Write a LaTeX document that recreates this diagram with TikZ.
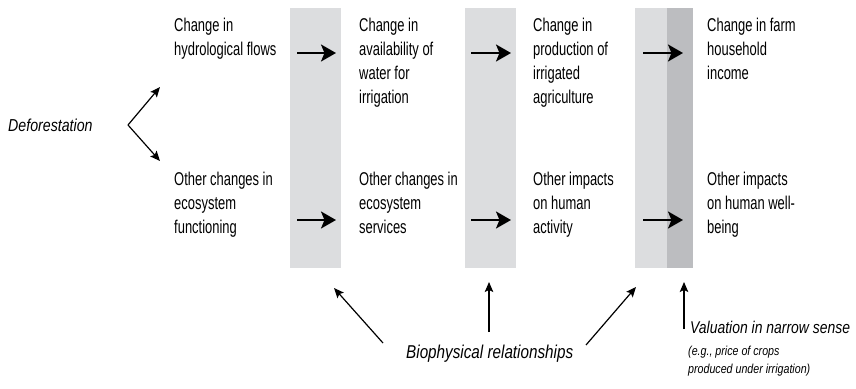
\documentclass[tikz,border=0pt]{standalone}
\usepackage{fontspec}
\setmainfont[FakeStretch=0.7]{Liberation Sans}
\newfontfamily\itlabel[FakeStretch=0.82]{Liberation Sans}
\usetikzlibrary{arrows.meta}
\definecolor{bandlight}{HTML}{DCDDDF}
\definecolor{banddark}{HTML}{BCBDC0}
\begin{document}
\begin{tikzpicture}[x=1pt,y=-1pt,
  box/.style={anchor=north west,inner sep=0pt,align=left,font=\fontsize{18.5}{24}\selectfont},
  thick arrow/.style={line width=2.2pt,-{Stealth[length=15pt,width=17pt,inset=3.5pt]}},
  thin arrow/.style={line width=1.2pt,-{Stealth[length=10pt,width=8.5pt,inset=2pt]}},
  italic label/.style={inner sep=0pt}]
\useasboundingbox (0,0) rectangle (856,388);
\fill[white] (0,0) rectangle (856,388);
% bands
\fill[bandlight] (290,8) rectangle (341,268);
\fill[bandlight] (465,8) rectangle (516,268);
\fill[bandlight] (635,8) rectangle (667,268);
\fill[banddark] (667,8) rectangle (693,268);
% texts
\node[box] (c1a) at (174,18.2) {Change in\\hydrological flows};
\node[box] (c2a) at (359,18.2) {Change in\\availability of\\water for\\irrigation};
\node[box] (c3a) at (533,18.2) {Change in\\production of\\irrigated\\agriculture};
\node[box] (c4a) at (707,18.2) {Change in farm\\household\\income};
\node[box] (c1b) at (174,171.5) {Other changes in\\ecosystem\\functioning};
\node[box] (c2b) at (359,171.5) {Other changes in\\ecosystem\\services};
\node[box] (c3b) at (533,171.5) {Other impacts\\on human\\activity};
\node[box] (c4b) at (707,171.5) {Other impacts\\on human well-\\being};
\node[italic label,anchor=base west,font=\fontsize{17.3}{20}\itlabel\itshape] (defo) at (8,131.7) {Deforestation};
\node[italic label,anchor=base west,font=\fontsize{18.6}{22}\itlabel\itshape] (bio) at (406,358.3) {Biophysical relationships};
\node[italic label,anchor=base west,font=\fontsize{17}{20}\itlabel\itshape] (val) at (690,333) {Valuation in narrow sense};
\node[anchor=north west,inner sep=0pt,align=left,font=\fontsize{13}{18}\itlabel\itshape] (eg) at (688,345.5) {(e.g., price of crops\\produced under irrigation)};
% coordinates
\coordinate (v) at (128,125);
\coordinate (vu) at (160,87);
\coordinate (vd) at (160,161);
\foreach \n/\xa/\xb in {1/297/336,2/471/511,3/643/683}{
  \coordinate (ra\n) at (\xa,53); \coordinate (rb\n) at (\xb,53);
  \coordinate (sa\n) at (\xa,220); \coordinate (sb\n) at (\xb,220);
}
\coordinate (b1t) at (383,343); \coordinate (b1h) at (334,288);
\coordinate (b2t) at (489,332); \coordinate (b2h) at (489,282);
\coordinate (b3t) at (586,345); \coordinate (b3h) at (636,287);
\coordinate (b4t) at (684,329); \coordinate (b4h) at (684,282);
% arrows
\draw[thin arrow] (v) -- (vu);
\draw[thin arrow] (v) -- (vd);
\foreach \n in {1,2,3}{
  \draw[thick arrow] (ra\n) -- (rb\n);
  \draw[thick arrow] (sa\n) -- (sb\n);
}
\draw[thin arrow] (b1t) -- (b1h);
\draw[thin arrow] (b2t) -- (b2h);
\draw[thin arrow] (b3t) -- (b3h);
\draw[thin arrow] (b4t) -- (b4h);
\end{tikzpicture}
\end{document}
